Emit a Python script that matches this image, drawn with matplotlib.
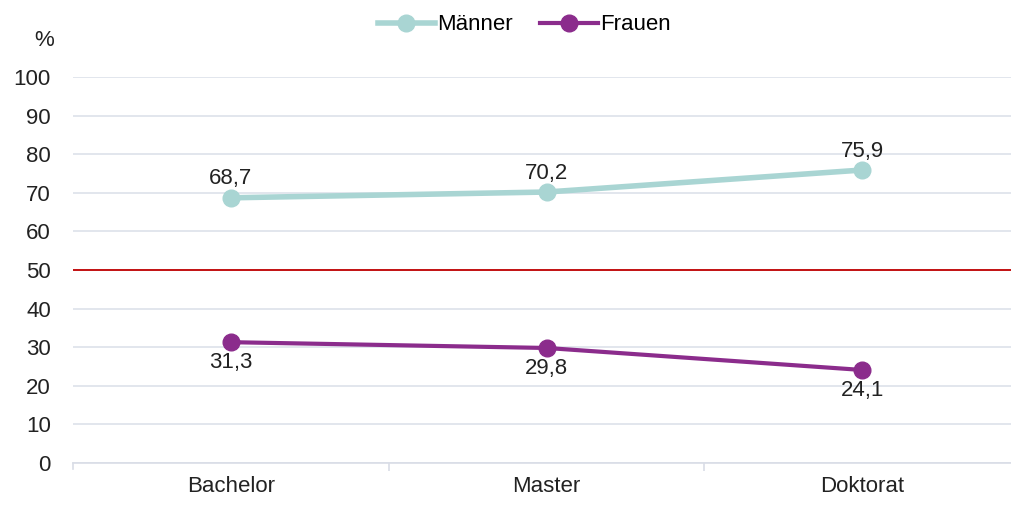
import matplotlib
matplotlib.use("Agg")
import matplotlib.pyplot as plt

categories = ["Bachelor", "Master", "Doktorat"]
maenner = [68.7, 70.2, 75.9]
frauen = [31.3, 29.8, 24.1]
yticks = [0, 10, 20, 30, 40, 50, 60, 70, 80, 90, 100]

plt.rcParams['font.family'] = ['Liberation Sans', 'DejaVu Sans']
FS = 16

fig = plt.figure(figsize=(10.11, 5.05), dpi=100)
ax = fig.add_axes([73/1011, 1-463/505, (1020-73)/1011, (463-77)/505])

c_m = "#A9D5D3"
c_f = "#8B2C8C"
x = list(range(len(categories)))
ax.plot(x, maenner, color=c_m, lw=4, marker="o", ms=12, label="Männer", zorder=3)
ax.plot(x, frauen, color=c_f, lw=3, marker="o", ms=12, label="Frauen", zorder=3)
ax.axhline(50, color="#C00000", lw=1.3, zorder=2)

for xi, v in zip(x, maenner):
    ax.annotate(f"{v:.1f}".replace(".", ","), (xi, v), xytext=(0, 6), textcoords="offset points",
                ha="center", va="bottom", fontsize=FS, color="#222222")
for xi, v in zip(x, frauen):
    ax.annotate(f"{v:.1f}".replace(".", ","), (xi, v), xytext=(0, -7), textcoords="offset points",
                ha="center", va="top", fontsize=FS, color="#222222")

ax.set_xlim(-0.5, 2.5)
ax.set_ylim(0, 100)
ax.set_yticks(yticks)
ax.set_yticklabels([str(t) for t in yticks], fontsize=FS, color="#222222")
ax.set_xticks(x)
ax.set_xticklabels(categories, fontsize=FS, color="#222222")
ax.set_xticks([0.5, 1.5, 2.5], minor=True)
ax.tick_params(axis="x", which="major", length=0, pad=9)
ax.tick_params(axis="x", which="minor", length=6, color="#D9DDE6", width=1.2)
ax.tick_params(axis="y", length=0, pad=16)
ax.grid(axis="y", color="#DDE1EA", lw=1.2)
ax.set_axisbelow(True)
for s in ["top", "right", "left"]:
    ax.spines[s].set_visible(False)
ax.spines["bottom"].set_color("#D9DDE6")
ax.spines["bottom"].set_linewidth(1.2)

# first minor tick at left edge
ax.plot([-0.5, -0.5], [0, -1.5], color="#D9DDE6", lw=1.2, clip_on=False)

fig.text(44/1011, 1-40/505, "%", fontsize=FS, ha="center", va="center", color="#222222")

fig.legend(loc="center", bbox_to_anchor=(524/1011, 1-25/505), ncol=2, frameon=False,
           fontsize=FS, handlelength=2.6, columnspacing=1.2, handletextpad=0.1)

fig.savefig("out.png", dpi=100)
